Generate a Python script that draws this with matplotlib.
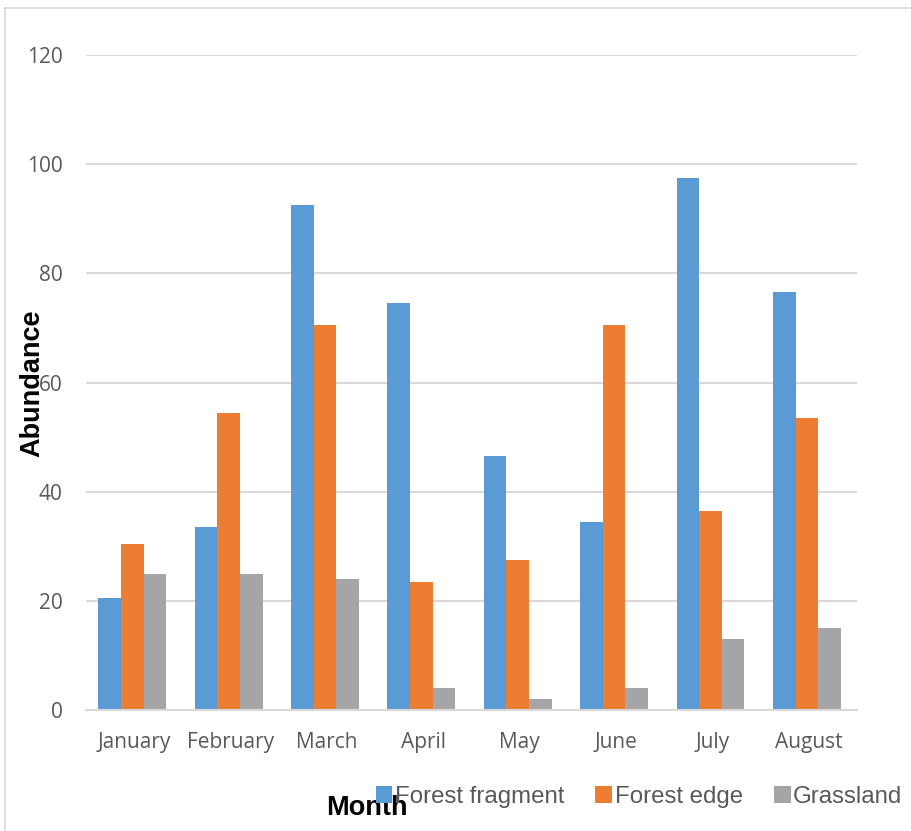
import matplotlib.pyplot as plt
import numpy as np
from matplotlib.lines import Line2D

# monthly abundance by habitat
months = ['January', 'February', 'March', 'April', 'May', 'June', 'July', 'August']
forest_fragment = [20.5, 33.5, 92.5, 74.5, 46.5, 34.5, 97.5, 76.5]
forest_edge = [30.5, 54.5, 70.5, 23.5, 27.5, 70.5, 36.5, 53.5]
grassland = [25, 25, 24, 4, 2, 4, 13, 15]

series = [('Forest fragment', forest_fragment, '#5B9BD5'),
          ('Forest edge', forest_edge, '#ED7D31'),
          ('Grassland', grassland, '#A5A5A5')]

fig = plt.figure(figsize=(9.12, 8.31), dpi=100)
ax = fig.add_axes([0.0943, 0.1456, 0.8454, 0.7882])

x = np.arange(len(months))
w = 0.235
for i, (name, vals, col) in enumerate(series):
    ax.bar(x + (i - 1) * w - 0.02, vals, w, color=col, label=name, zorder=3)

ax.set_xlim(-0.5, len(months) - 0.5)
ax.set_ylim(0, 120)
ax.set_yticks(np.arange(0, 121, 20))
ax.set_xticks(x)
ax.set_xticklabels(months)
ax.grid(axis='y', color='#d9d9d9', linewidth=1.5, zorder=0)
for s in ['top', 'right', 'left']:
    ax.spines[s].set_visible(False)
ax.spines['bottom'].set_color('#d9d9d9')
ax.spines['bottom'].set_linewidth(1.5)
ax.spines['bottom'].set_zorder(4)
ax.tick_params(axis='both', length=0, colors='#595959', labelsize=15)
ax.tick_params(axis='y', pad=17)
ax.tick_params(axis='x', pad=16)
for lab in ax.get_xticklabels() + ax.get_yticklabels():
    lab.set_family('Open Sans')

fig.text(367 / 912, 1 - 808 / 831, 'Month', ha='center', va='center',
         fontsize=19.5, fontweight='bold', family='Liberation Sans')
fig.text(32 / 912, 1 - 383 / 831, 'Abundance', ha='center', va='center',
         rotation=90, fontsize=19.5, fontweight='bold', family='Liberation Sans')

handles, labels = ax.get_legend_handles_labels()
leg = fig.legend(handles, labels, loc='center', bbox_to_anchor=(0.7007, 1 - 797 / 831),
                 ncol=3, frameon=False, handlelength=0.7, handleheight=0.7,
                 handletextpad=0.1, columnspacing=1.3,
                 prop={'family': 'Liberation Sans', 'size': 17.3})
for t in leg.get_texts():
    t.set_color('#595959')

# thin frame round the chart
fig.add_artist(Line2D([5.5 / 912, 5.5 / 912], [0, 1 - 8 / 831], color='#d9d9d9', lw=1.2))
fig.add_artist(Line2D([5.5 / 912, 1], [1 - 8 / 831, 1 - 8 / 831], color='#d9d9d9', lw=1.2))

fig.savefig('out.png', dpi=100)
